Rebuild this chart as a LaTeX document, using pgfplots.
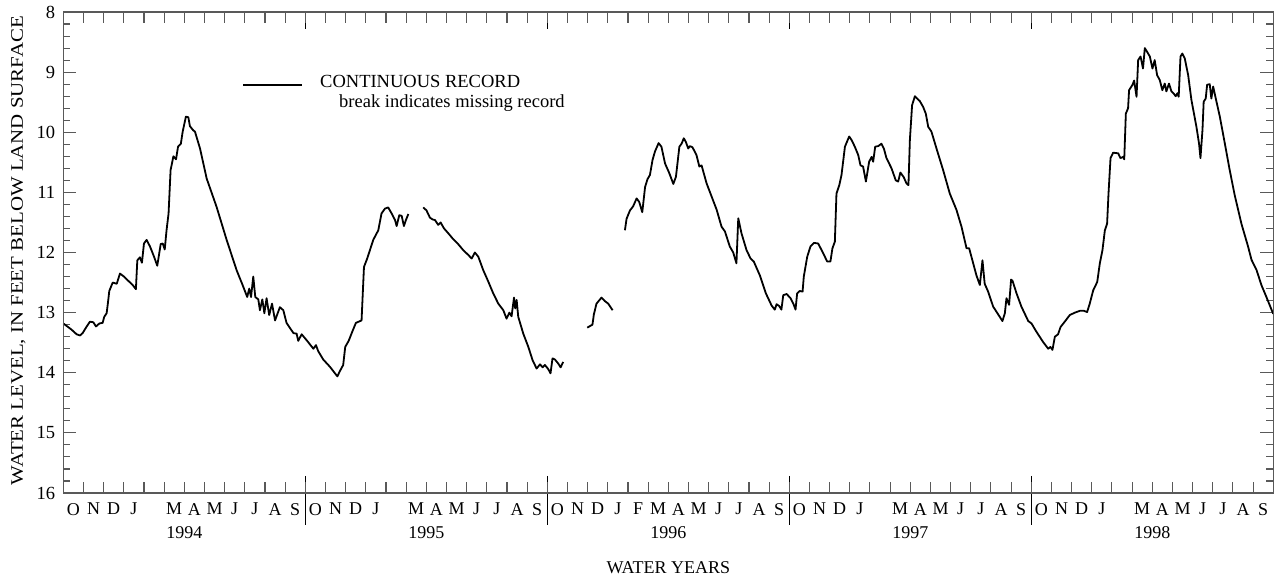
\documentclass[border=0pt]{standalone}
\usepackage{fontspec}
\setmainfont{Liberation Serif}
\usepackage{graphicx}
\usepackage{pgfplots}
\pgfplotsset{compat=1.18}
\newcommand{\tfont}{\fontsize{18.5pt}{22pt}\selectfont}
\newcommand{\mfont}{\fontsize{18pt}{21pt}\selectfont}
\begin{document}
\begin{tikzpicture}
\begin{axis}[
  at={(0pt,0pt)}, anchor=south west,
  scale only axis, width=1210pt, height=481pt,
  xmin=0, xmax=60, ymin=8, ymax=16, y dir=reverse,
  clip=false,
  axis line style={black!65, line width=1.2pt},
  tick align=inside,
  xtick pos=bottom,
  ytick={8,9,...,16}, minor y tick num=4, ytick pos=both, yticklabel pos=left,
  major tick length=13pt, minor tick length=7pt,
  every tick/.append style={black!65, line width=1.1pt},
  xtick={0.5,1.5,...,59.5},
  xticklabels={O,N,D,J,,M,A,M,J,J,A,S,O,N,D,J,,M,A,M,J,J,A,S,O,N,D,J,F,M,A,M,J,J,A,S,O,N,D,J,,M,A,M,J,J,A,S,O,N,D,J,,M,A,M,J,J,A,S},
  xtick style={draw=none},
  xticklabel style={font=\mfont, inner sep=0pt, anchor=north, yshift=-10pt},
  yticklabel style={font=\tfont, inner sep=0pt, anchor=east, xshift=-8pt},
  /pgf/number format/assume math mode=true,
]
\addplot[black, line width=1.8pt, line join=round] table {
x y
0.00 13.18
0.40 13.28
0.66 13.36
0.83 13.38
0.96 13.34
1.16 13.23
1.32 13.15
1.49 13.16
1.62 13.23
1.79 13.18
1.95 13.17
2.03 13.07
2.15 13.01
2.23 12.79
2.28 12.64
2.45 12.50
2.65 12.52
2.81 12.35
3.01 12.40
3.22 12.47
3.44 12.54
3.60 12.61
3.67 12.13
3.80 12.08
3.90 12.17
4.00 11.85
4.13 11.79
4.30 11.90
4.50 12.07
4.66 12.22
4.83 11.86
4.93 11.85
5.03 11.95
5.12 11.63
5.22 11.35
5.32 10.63
5.46 10.40
5.59 10.45
5.69 10.24
5.83 10.19
5.92 9.99
6.08 9.74
6.20 9.75
6.28 9.90
6.45 9.97
6.53 9.99
6.78 10.27
7.11 10.77
7.60 11.24
8.10 11.79
8.59 12.29
8.89 12.54
9.12 12.74
9.22 12.60
9.31 12.74
9.42 12.40
9.52 12.74
9.67 12.78
9.75 12.96
9.87 12.78
9.97 13.01
10.08 12.76
10.21 13.04
10.35 12.85
10.50 13.13
10.74 12.91
10.91 12.96
11.07 13.17
11.41 13.34
11.57 13.35
11.65 13.47
11.82 13.36
12.07 13.46
12.40 13.60
12.53 13.54
12.64 13.64
12.89 13.78
13.22 13.90
13.59 14.06
13.72 13.97
13.88 13.87
13.98 13.57
14.15 13.47
14.35 13.30
14.51 13.17
14.79 13.13
14.91 12.24
15.07 12.10
15.37 11.79
15.62 11.63
15.78 11.35
15.95 11.27
16.11 11.25
16.28 11.35
16.45 11.46
16.53 11.56
16.66 11.38
16.78 11.39
16.89 11.56
16.99 11.46
17.11 11.36
};
\addplot[black, line width=1.8pt, line join=round] table {
x y
17.85 11.25
18.01 11.30
18.18 11.42
18.31 11.45
18.43 11.46
18.59 11.54
18.71 11.50
18.88 11.60
19.09 11.68
19.34 11.78
19.58 11.86
19.83 11.96
20.08 12.04
20.25 12.10
20.41 12.00
20.58 12.07
20.82 12.29
21.07 12.48
21.32 12.68
21.57 12.85
21.82 12.96
21.98 13.10
22.12 13.00
22.23 13.06
22.35 12.75
22.41 12.93
22.48 12.79
22.56 13.07
22.81 13.35
23.06 13.57
23.27 13.79
23.47 13.93
23.64 13.86
23.77 13.91
23.88 13.87
24.05 13.94
24.16 14.01
24.26 13.76
24.38 13.78
24.55 13.85
24.66 13.91
24.79 13.82
};
\addplot[black, line width=1.8pt, line join=round] table {
x y
25.98 13.25
26.24 13.20
26.31 13.03
26.44 12.85
26.69 12.75
26.86 12.81
27.02 12.85
27.24 12.96
};
\addplot[black, line width=1.8pt, line join=round] table {
x y
27.85 11.63
27.93 11.44
28.10 11.30
28.26 11.23
28.43 11.10
28.56 11.16
28.71 11.33
28.85 10.91
28.97 10.78
29.09 10.71
29.22 10.46
29.34 10.32
29.52 10.18
29.66 10.24
29.84 10.52
30.05 10.68
30.25 10.86
30.38 10.74
30.55 10.24
30.66 10.19
30.77 10.10
30.87 10.16
30.99 10.27
31.07 10.23
31.20 10.25
31.40 10.38
31.54 10.57
31.65 10.55
31.90 10.85
32.15 11.07
32.40 11.29
32.64 11.57
32.81 11.65
33.05 11.90
33.22 12.00
33.38 12.18
33.47 11.43
33.63 11.68
33.88 11.96
34.08 12.10
34.24 12.15
34.54 12.38
34.84 12.68
35.12 12.88
35.28 12.95
35.37 12.86
35.50 12.89
35.61 12.95
35.70 12.71
35.87 12.69
36.06 12.76
36.20 12.85
36.31 12.95
36.39 12.68
36.52 12.64
36.66 12.65
36.72 12.40
36.89 12.07
37.05 11.90
37.22 11.84
37.43 11.85
37.65 11.99
37.88 12.15
38.04 12.15
38.14 11.93
38.26 11.82
38.34 11.02
38.48 10.88
38.59 10.71
38.76 10.24
38.97 10.07
39.09 10.13
39.25 10.24
39.42 10.38
39.53 10.55
39.66 10.57
39.80 10.82
39.96 10.49
40.08 10.41
40.16 10.49
40.26 10.24
40.41 10.23
40.57 10.19
40.69 10.27
40.82 10.43
41.07 10.60
41.28 10.80
41.40 10.82
41.51 10.67
41.68 10.75
41.81 10.85
41.91 10.88
41.98 10.13
42.09 9.55
42.23 9.40
42.34 9.44
42.47 9.48
42.64 9.58
42.77 9.69
42.89 9.91
43.05 9.99
43.30 10.27
43.63 10.63
43.96 11.02
44.29 11.29
44.54 11.57
44.79 11.93
44.92 11.93
45.12 12.18
45.28 12.38
45.45 12.54
45.58 12.13
45.69 12.52
45.86 12.65
46.11 12.90
46.36 13.03
46.57 13.14
46.69 13.01
46.77 12.76
46.90 12.87
47.00 12.45
47.07 12.47
47.27 12.68
47.51 12.90
47.85 13.14
48.01 13.18
48.26 13.32
48.59 13.49
48.84 13.60
48.95 13.57
49.05 13.62
49.17 13.40
49.33 13.36
49.45 13.24
49.66 13.15
49.91 13.04
50.16 13.00
50.41 12.97
50.61 12.97
50.77 12.99
50.90 12.85
51.07 12.63
51.27 12.49
51.40 12.18
51.53 11.96
51.65 11.63
51.76 11.52
51.83 11.02
51.93 10.43
52.06 10.34
52.31 10.35
52.42 10.43
52.56 10.41
52.61 10.45
52.69 9.69
52.80 9.60
52.85 9.30
53.02 9.21
53.10 9.14
53.22 9.41
53.30 8.80
53.42 8.74
53.54 8.94
53.63 8.60
53.74 8.66
53.88 8.74
54.01 8.94
54.12 8.80
54.24 9.05
54.37 9.13
54.50 9.30
54.62 9.19
54.70 9.32
54.83 9.19
54.95 9.32
55.07 9.36
55.16 9.40
55.25 9.35
55.31 9.41
55.40 8.74
55.49 8.69
55.61 8.77
55.78 9.05
55.94 9.46
56.19 9.91
56.32 10.19
56.39 10.43
56.49 9.96
56.55 9.49
56.65 9.44
56.72 9.21
56.85 9.20
56.93 9.44
57.02 9.24
57.15 9.44
57.35 9.74
57.60 10.19
57.84 10.63
58.09 11.05
58.42 11.52
58.75 11.90
58.92 12.12
59.17 12.29
59.41 12.54
59.66 12.74
59.96 12.99
60.00 13.02
};
% year separators
\draw[black, line width=1.2pt] (axis cs:12,15.717) -- (axis cs:12,16.532);
\draw[black, line width=1.2pt] (axis cs:24,15.717) -- (axis cs:24,16.532);
\draw[black, line width=1.2pt] (axis cs:36,15.717) -- (axis cs:36,16.532);
\draw[black, line width=1.2pt] (axis cs:48,15.717) -- (axis cs:48,16.532);
\draw[black, line width=1.2pt] (axis cs:12,8) -- (axis cs:12,8.283);
\draw[black, line width=1.2pt] (axis cs:24,8) -- (axis cs:24,8.283);
\draw[black, line width=1.2pt] (axis cs:36,8) -- (axis cs:36,8.283);
\draw[black, line width=1.2pt] (axis cs:48,8) -- (axis cs:48,8.283);
% year labels
\node[font=\mfont] at (axis cs:6,16) [yshift=-40pt] {1994};
\node[font=\mfont] at (axis cs:18,16) [yshift=-40pt] {1995};
\node[font=\mfont] at (axis cs:30,16) [yshift=-40pt] {1996};
\node[font=\mfont] at (axis cs:42,16) [yshift=-40pt] {1997};
\node[font=\mfont] at (axis cs:54,16) [yshift=-40pt] {1998};
\node[font=\mfont] at (axis cs:30,16) [yshift=-75pt] {WATER YEARS};
% y label
\node[inner sep=0pt, xshift=-44.8pt, rotate=90] at (axis cs:0,11.97)
  {\scalebox{1.18}[1.0]{\fontsize{17.7pt}{20pt}\selectfont WATER LEVEL, IN FEET BELOW LAND SURFACE}};
% legend
\draw[black, line width=1.8pt] (axis cs:8.92,9.215) -- (axis cs:11.82,9.215);
\node[font=\tfont, inner sep=0pt, anchor=base west] at (axis cs:12.73,9.253) {CONTINUOUS RECORD};
\node[font=\tfont, inner sep=0pt, anchor=base west] at (axis cs:13.67,9.586) {break indicates missing record};
\end{axis}
\begin{axis}[
  at={(0pt,0pt)}, anchor=south west,
  scale only axis, width=1210pt, height=481pt,
  xmin=0, xmax=60, ymin=8, ymax=16, y dir=reverse,
  axis line style={black!65, line width=1.2pt},
  tick align=inside, xtick pos=both,
  xtick={0,1,...,60}, xticklabels={},
  ytick=\empty,
  major tick length=11pt,
  every tick/.append style={black!65, line width=1.1pt},
]
\end{axis}
\pgfresetboundingbox
\path[use as bounding box] (-63.3pt,-86pt) rectangle (1214.7pt,493pt);
\end{tikzpicture}
\end{document}
